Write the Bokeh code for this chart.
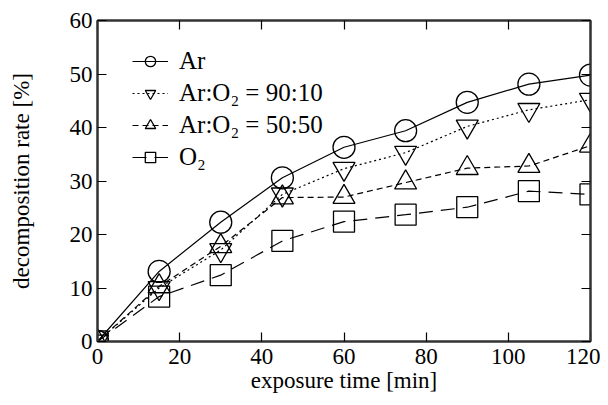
from bokeh.plotting import figure
from bokeh.models import LinearAxis, FixedTicker, Legend, LegendItem
from bokeh.embed import file_html
from bokeh.resources import INLINE

time_min = [0, 15, 30, 45, 60, 75, 90, 105, 120]
ar = [0, 13.1, 22.3, 30.6, 36.3, 39.4, 44.7, 48.1, 49.8]
ar_o2_90_10 = [0, 10.0, 17.1, 27.5, 32.3, 35.3, 40.2, 43.3, 45.2]
ar_o2_50_50 = [0, 10.3, 17.8, 26.9, 27.0, 29.7, 32.4, 32.8, 36.6]
o2 = [0, 8.4, 12.4, 18.8, 22.4, 23.7, 25.1, 28.1, 27.5]

labels = ["Ar", "Ar:O\u2082 = 90:10", "Ar:O\u2082 = 50:50", "O\u2082"]
x_ticks = [0, 20, 40, 60, 80, 100, 120]
y_ticks = [0, 10, 20, 30, 40, 50, 60]

FONT = "Liberation Serif"

p = figure(width=600, height=397, output_backend="svg", toolbar_location=None,
           x_range=(0, 120), y_range=(0, 60),
           min_border_left=97, min_border_right=10, min_border_top=20, min_border_bottom=56)
p.xgrid.visible = False
p.ygrid.visible = False
p.outline_line_color = "#333333"
p.outline_line_width = 2

def style_axis(ax, ticks):
    ax.ticker = FixedTicker(ticks=ticks)
    ax.major_tick_in = 9
    ax.major_tick_out = 0
    ax.minor_tick_in = 0
    ax.minor_tick_out = 0
    ax.axis_line_color = "#333333"
    ax.axis_line_width = 2
    ax.major_tick_line_color = "black"
    ax.major_tick_line_width = 1.2
    ax.major_label_text_font = FONT
    ax.major_label_text_font_size = "23px"
    ax.major_label_text_color = "black"
    ax.axis_label_text_font = FONT
    ax.axis_label_text_font_size = "23px"
    ax.axis_label_text_font_style = "normal"
    ax.axis_label_text_color = "black"

style_axis(p.xaxis[0], x_ticks)
style_axis(p.yaxis[0], y_ticks)
p.xaxis[0].axis_label = "exposure time [min]"
p.yaxis[0].axis_label = "decomposition rate [%]"
p.xaxis[0].major_label_standoff = 7
p.xaxis[0].axis_label_standoff = 1
p.yaxis[0].major_label_standoff = 5
p.yaxis[0].axis_label_standoff = 33

top = LinearAxis()
style_axis(top, x_ticks)
top.major_label_text_color = None
top.major_label_text_font_size = "1px"
p.add_layout(top, "above")
right = LinearAxis()
style_axis(right, y_ticks)
right.major_label_text_color = None
right.major_label_text_font_size = "1px"
p.add_layout(right, "right")

series = [ar, ar_o2_90_10, ar_o2_50_50, o2]
markers = ["circle", "inverted_triangle", "triangle", "square"]
dashes = ["solid", "2 3", "6 4", "14 8"]
sizes = [22, 22, 22, 21]

items = []
for vals, mk, dash, sz, lab in zip(series, markers, dashes, sizes, labels):
    ln = p.line(time_min, vals, line_color="black", line_width=1.2, line_dash=dash)
    sc = p.scatter(time_min, vals, marker=mk, size=sz, fill_alpha=0,
                   line_color="black", line_width=1.3)
    items.append(LegendItem(label=lab, renderers=[ln, sc]))

legend = Legend(items=items, location=(35, 170))
legend.border_line_color = None
legend.background_fill_alpha = 0
legend.label_text_font = FONT
legend.label_text_font_size = "25px"
legend.label_text_color = "black"
legend.glyph_width = 36
legend.glyph_height = 26
legend.label_height = 26
legend.spacing = 4
legend.padding = 0
legend.margin = 0
legend.label_standoff = 11
p.add_layout(legend)

open("out.html", "w").write(file_html(p, INLINE))
